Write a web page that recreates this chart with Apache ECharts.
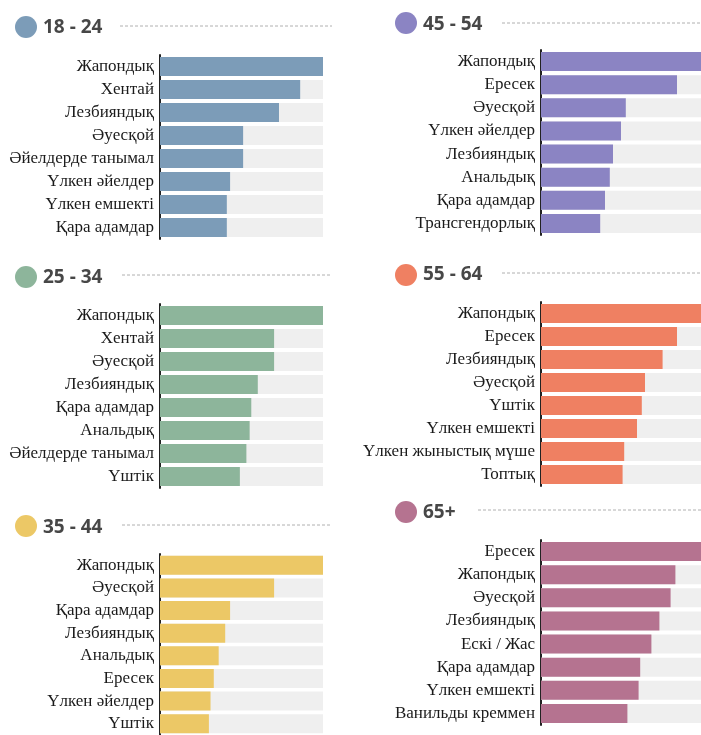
<!DOCTYPE html>
<html><head><meta charset="utf-8">
<script src="https://cdn.jsdelivr.net/npm/echarts@6/dist/echarts.min.js"></script>
<style>html,body{margin:0;padding:0;background:#fff}#c{width:701px;height:735px}</style>
</head><body><div id="c"></div>
<script>
// Group titles
const groupTitles = ['18 - 24', '45 - 54', '25 - 34', '55 - 64', '35 - 44', '65+'];
const groupColors = ['#7c9cb8', '#8b84c3', '#8db59b', '#ef8062', '#ecc866', '#b57390'];

// Categories per group (top to bottom)
const cats1824 = ['Жапондық', 'Хентай', 'Лезбияндық', 'Әуесқой', 'Әйелдерде танымал', 'Үлкен әйелдер', 'Үлкен емшекті', 'Қара адамдар'];
const vals1824 = [100, 86, 73, 51, 51, 43, 41, 41];

const cats4554 = ['Жапондық', 'Ересек', 'Әуесқой', 'Үлкен әйелдер', 'Лезбияндық', 'Анальдық', 'Қара адамдар', 'Трансгендорлық'];
const vals4554 = [100, 85, 53, 50, 45, 43, 40, 37];

const cats2534 = ['Жапондық', 'Хентай', 'Әуесқой', 'Лезбияндық', 'Қара адамдар', 'Анальдық', 'Әйелдерде танымал', 'Үштік'];
const vals2534 = [100, 70, 70, 60, 56, 55, 53, 49];

const cats5564 = ['Жапондық', 'Ересек', 'Лезбияндық', 'Әуесқой', 'Үштік', 'Үлкен емшекті', 'Үлкен жыныстық мүше', 'Топтық'];
const vals5564 = [100, 85, 76, 65, 63, 60, 52, 51];

const cats3544 = ['Жапондық', 'Әуесқой', 'Қара адамдар', 'Лезбияндық', 'Анальдық', 'Ересек', 'Үлкен әйелдер', 'Үштік'];
const vals3544 = [100, 70, 43, 40, 36, 33, 31, 30];

const cats65 = ['Ересек', 'Жапондық', 'Әуесқой', 'Лезбияндық', 'Ескі / Жас', 'Қара адамдар', 'Үлкен емшекті', 'Ванильды креммен'];
const vals65 = [100, 84, 81, 74, 69, 62, 61, 54];

const allCats = [cats1824, cats4554, cats2534, cats5564, cats3544, cats65];
const allVals = [vals1824, vals4554, vals2534, vals5564, vals3544, vals65];

// Layout (panel geometry)
const grids = [
  {left: 160, top: 55, width: 163, height: 184},
  {left: 541, top: 50, width: 161, height: 185},
  {left: 160, top: 304, width: 163, height: 184},
  {left: 541, top: 302, width: 161, height: 184},
  {left: 160, top: 554, width: 163, height: 184},
  {left: 541, top: 540, width: 161, height: 185}
];
const heads = [
  {cx: 26, cy: 27, ty: 28, lx1: 120, lx2: 332, ly: 26},
  {cx: 406, cy: 23, ty: 25, lx1: 502, lx2: 701, ly: 23},
  {cx: 26, cy: 277, ty: 278, lx1: 122, lx2: 332, ly: 275},
  {cx: 406, cy: 275, ty: 275, lx1: 502, lx2: 701, ly: 273},
  {cx: 26, cy: 526, ty: 528, lx1: 122, lx2: 332, ly: 525},
  {cx: 406, cy: 512, ty: 513, lx1: 478, lx2: 701, ly: 510}
];

const chart = echarts.init(document.getElementById('c'), null, {renderer: 'canvas'});
const gridOpt = [], xAxes = [], yAxes = [], series = [], graphics = [];
for (let i = 0; i < 6; i++) {
  gridOpt.push(Object.assign({containLabel: false}, grids[i]));
  xAxes.push({type: 'value', gridIndex: i, min: 0, max: 100, show: false});
  yAxes.push({
    type: 'category', gridIndex: i, data: allCats[i], inverse: true,
    axisLine: {show: true, lineStyle: {color: '#222', width: 2}},
    axisTick: {show: false},
    axisLabel: {color: '#1a1a1a', fontFamily: 'Liberation Serif', fontSize: 17, margin: 6}
  });
  series.push({
    type: 'bar', xAxisIndex: i, yAxisIndex: i, data: allVals[i],
    barWidth: 19, showBackground: true,
    backgroundStyle: {color: '#efefef'},
    itemStyle: {color: groupColors[i]},
    silent: true, z: 2
  });
  const h = heads[i];
  graphics.push({type: 'circle', shape: {cx: h.cx, cy: h.cy, r: 11}, style: {fill: groupColors[i]}});
  graphics.push({type: 'text', x: h.cx + 17, y: h.ty, style: {text: groupTitles[i], fill: '#474747', font: 'bold 19px "Open Sans"', textVerticalAlign: 'middle'}});
  graphics.push({type: 'line', shape: {x1: h.lx1, y1: h.ly, x2: h.lx2, y2: h.ly}, style: {stroke: '#b0b0b0', lineWidth: 1, lineDash: [3, 2]}});
}
chart.setOption({
  animation: false,
  grid: gridOpt, xAxis: xAxes, yAxis: yAxes, series: series, graphic: graphics
});
</script></body></html>
